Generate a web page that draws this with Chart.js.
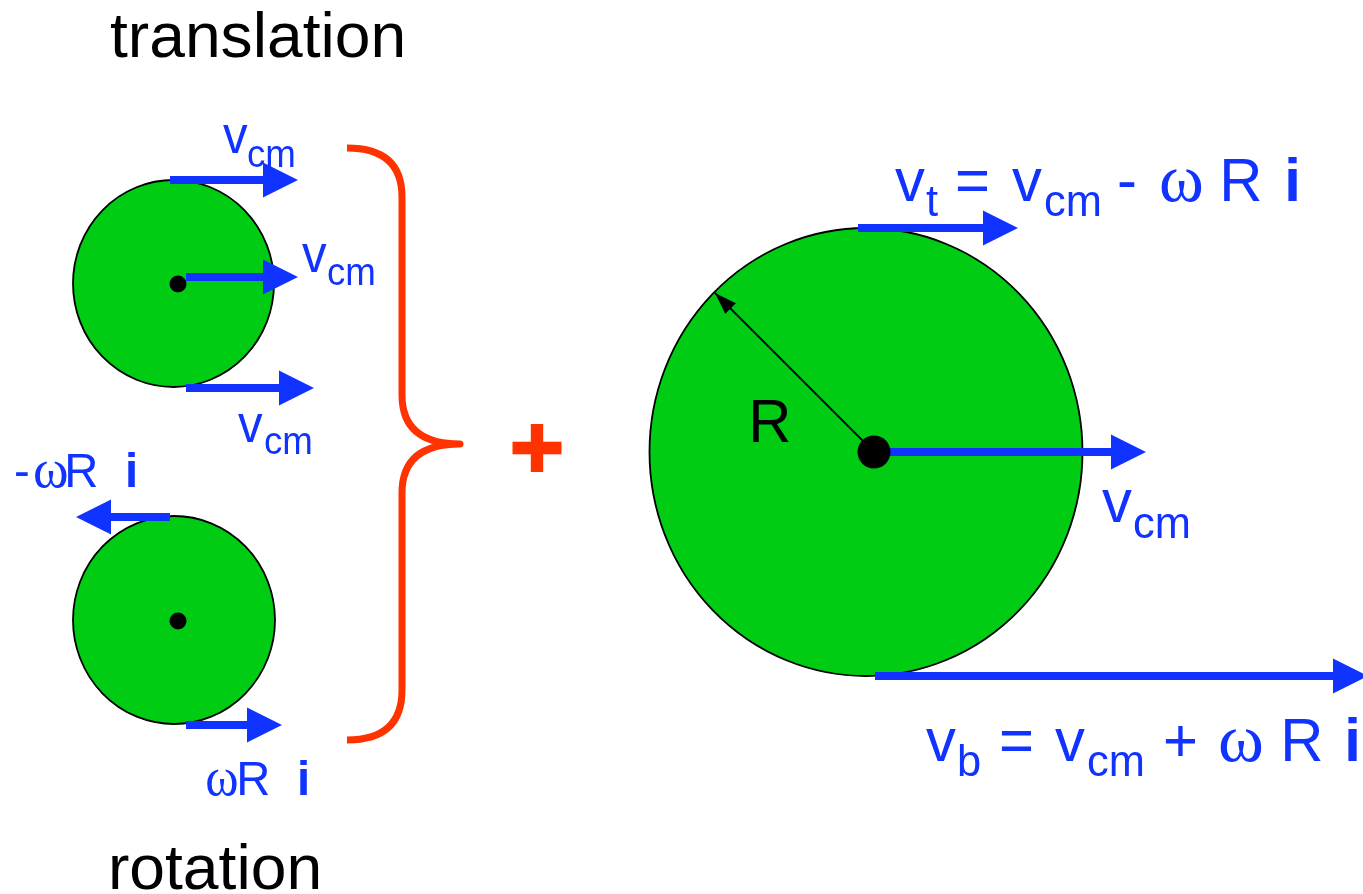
<!DOCTYPE html>
<html>
<head>
<meta charset="utf-8">
<title>translation + rotation</title>
<script src="https://cdn.jsdelivr.net/npm/chart.js@4.4.1/dist/chart.umd.min.js"></script>
<style>
  html, body { margin: 0; padding: 0; background: #fff; }
  #diagrama { display: block; }
</style>
</head>
<body>
<canvas id="diagrama" width="1363" height="894"></canvas>
<script>
// rodas (centro e raios, em unidades da figura)
const wheelX = [173.5, 174, 866];
const wheelY = [283.5, 620, 452];
const wheelRx = [100.5, 101, 216.5];
const wheelRy = [103.5, 104, 224];

// pontos centrais
const dotX = [178, 178, 874];
const dotY = [284, 621, 452];

// setas de velocidade: inicio, ponta, altura
const arrowX0 = [170, 186, 186, 170, 186, 858, 885, 875];
const arrowX1 = [298, 298, 314, 76, 282, 1018, 1146, 1368];
const arrowY = [180, 277, 388, 517, 725, 228, 452, 676];

// raio R
const radiusX = [874, 715];
const radiusY = [452, 293];

// chave vermelha (pontos principais)
const braceX = [347, 402, 402, 460, 402, 402, 347];
const braceY = [148, 197, 395, 444, 493, 690, 740];

// sinal de mais
const plusX = [537];
const plusY = [448];

// textos: [texto, x, linha de base, estilo, largura opcional]
const titulos = [
    ["translation", 110, 57, "titulo", 292],
    ["rotation", 112, 889, "titulo", 206]
];
const rotulosV = [
    // v, x do v, base do v, x do "cm", base do "cm"
    [223, 153, 248, 167],
    [302, 272, 328, 285],
    [238, 442, 265, 454]
];
const equacaoTopo = [
    ["v", 895, 201, "eq"], ["t", 926, 216, "sub"], ["=", 958, 201, "eq"],
    ["v", 1012, 201, "eq"], ["cm", 1045, 216, "sub"], ["-", 1119, 201, "eq"],
    ["\u03c9", 1161, 201, "omega", 41], ["R", 1224, 201, "eq"], ["i", 1288, 201, "bold"]
];
const equacaoBase = [
    ["v", 926, 761, "eq"], ["b", 959, 776, "sub"], ["=", 1002, 761, "eq"],
    ["v", 1055, 761, "eq"], ["cm", 1088, 776, "sub"], ["+", 1166, 761, "eq"],
    ["\u03c9", 1220, 761, "omega", 42], ["R", 1285, 761, "eq"], ["i", 1348, 761, "bold"]
];
const outrosRotulos = [
    ["-", 16, 487, "small"], ["\u03c9", 35, 487, "smallOmega", 32], ["R", 68, 487, "small"], ["i", 128, 487, "smallBold"],
    ["\u03c9", 207, 795, "smallOmega", 30], ["R", 240, 795, "small"], ["i", 300, 795, "smallBold"],
    ["v", 1102, 522, "eq"], ["cm", 1134, 538, "sub"]
];
const rotuloR = [["R", 753, 442, "R"]];

const AZUL = "rgb(17, 51, 255)";
const VERDE = "rgb(0, 204, 20)";
const VERMELHO = "rgb(255, 51, 0)";
const SANS = '"Liberation Sans", Arial, sans-serif';
const SERIF = '"Liberation Serif", "DejaVu Serif", serif';
const estilos = {
    eq: { size: 62, font: SANS, bold: false, color: AZUL },
    sub: { size: 45, font: SANS, bold: false, color: AZUL },
    omega: { size: 68, font: SERIF, bold: false, color: AZUL },
    bold: { size: 62, font: SANS, bold: true, color: AZUL },
    small: { size: 49, font: SANS, bold: false, color: AZUL },
    smallOmega: { size: 54, font: SERIF, bold: false, color: AZUL },
    smallBold: { size: 49, font: SANS, bold: true, color: AZUL },
    v: { size: 51, font: SANS, bold: false, color: AZUL },
    vSub: { size: 38, font: SANS, bold: false, color: AZUL },
    titulo: { size: 63, font: SANS, bold: false, color: "#000" },
    R: { size: 62, font: SANS, bold: false, color: "#000" }
};
const ESTREITO = 0.965; // a figura original esta levemente comprimida na horizontal
const PONTA = 35, MEIA = 17.5;

function escrever(ctx, chart, texto, x, y, nomeEstilo, largura) {
    const e = estilos[nomeEstilo];
    const px = chart.scales.x.getPixelForValue(x);
    const py = chart.scales.y.getPixelForValue(y);
    ctx.save();
    ctx.font = (e.bold ? "bold " : "") + e.size + "px " + e.font;
    ctx.fillStyle = e.color;
    ctx.textBaseline = "alphabetic";
    ctx.textAlign = "left";
    const m = ctx.measureText(texto);
    let escala = ESTREITO;
    if (largura) {
        escala = largura / (m.actualBoundingBoxLeft + m.actualBoundingBoxRight);
    }
    ctx.translate(px, py);
    ctx.scale(escala, 1);
    ctx.fillText(texto, m.actualBoundingBoxLeft, 0);
    ctx.restore();
}

const desenhoPlugin = {
    id: "desenho",
    beforeDatasetsDraw(chart) {
        const ctx = chart.ctx, sx = chart.scales.x, sy = chart.scales.y;
        for (let i = 0; i < wheelX.length; i++) {
            const cx = sx.getPixelForValue(wheelX[i]);
            const cy = sy.getPixelForValue(wheelY[i]);
            const rx = Math.abs(sx.getPixelForValue(wheelX[i] + wheelRx[i]) - cx);
            const ry = Math.abs(sy.getPixelForValue(wheelY[i] + wheelRy[i]) - cy);
            ctx.save();
            ctx.beginPath();
            ctx.ellipse(cx, cy, rx, ry, 0, 0, Math.PI * 2);
            ctx.fillStyle = VERDE;
            ctx.fill();
            ctx.lineWidth = 1.8;
            ctx.strokeStyle = "#000";
            ctx.stroke();
            ctx.restore();
        }
    },
    afterDatasetsDraw(chart) {
        const ctx = chart.ctx, sx = chart.scales.x, sy = chart.scales.y;
        // pontas das setas azuis
        ctx.save();
        ctx.fillStyle = AZUL;
        for (let i = 0; i < arrowX0.length; i++) {
            const dir = Math.sign(arrowX1[i] - arrowX0[i]);
            const tx = sx.getPixelForValue(arrowX1[i]);
            const ty = sy.getPixelForValue(arrowY[i]);
            ctx.beginPath();
            ctx.moveTo(tx, ty);
            ctx.lineTo(tx - dir * PONTA, ty - MEIA);
            ctx.lineTo(tx - dir * PONTA, ty + MEIA);
            ctx.closePath();
            ctx.fill();
        }
        ctx.restore();

        // ponta da seta do raio
        const ax = sx.getPixelForValue(radiusX[1]), ay = sy.getPixelForValue(radiusY[1]);
        const bx = sx.getPixelForValue(radiusX[0]), by = sy.getPixelForValue(radiusY[0]);
        const len = Math.hypot(bx - ax, by - ay);
        const ux = (bx - ax) / len, uy = (by - ay) / len;
        ctx.save();
        ctx.fillStyle = "#000";
        ctx.beginPath();
        ctx.moveTo(ax, ay);
        ctx.lineTo(ax + ux * 22 - uy * 7.5, ay + uy * 22 + ux * 7.5);
        ctx.lineTo(ax + ux * 22 + uy * 7.5, ay + uy * 22 - ux * 7.5);
        ctx.closePath();
        ctx.fill();
        ctx.restore();

        // chave
        const bxp = braceX.map(v => sx.getPixelForValue(v));
        const byp = braceY.map(v => sy.getPixelForValue(v));
        ctx.save();
        ctx.strokeStyle = VERMELHO;
        ctx.lineWidth = 7;
        ctx.lineJoin = "round";
        ctx.lineCap = "butt";
        ctx.beginPath();
        ctx.moveTo(bxp[0], byp[0]);
        ctx.quadraticCurveTo(bxp[1], byp[0], bxp[1], byp[1]);
        ctx.lineTo(bxp[2], byp[2]);
        ctx.quadraticCurveTo(bxp[2], byp[3], bxp[3], byp[3]);
        ctx.quadraticCurveTo(bxp[4], byp[3], bxp[4], byp[4]);
        ctx.lineTo(bxp[5], byp[5]);
        ctx.quadraticCurveTo(bxp[5], byp[6], bxp[6], byp[6]);
        ctx.stroke();
        ctx.restore();

        // sinal de mais
        ctx.save();
        ctx.fillStyle = VERMELHO;
        for (let i = 0; i < plusX.length; i++) {
            const cx = sx.getPixelForValue(plusX[i]), cy = sy.getPixelForValue(plusY[i]);
            ctx.fillRect(cx - 24.5, cy - 6.3, 49, 12.6);
            ctx.fillRect(cx - 6.2, cy - 24, 12.4, 48);
        }
        ctx.restore();

        // textos
        const todos = [].concat(titulos, rotuloR, equacaoTopo, equacaoBase, outrosRotulos);
        todos.forEach(s => escrever(ctx, chart, s[0], s[1], s[2], s[3], s[4]));
        rotulosV.forEach(r => {
            escrever(ctx, chart, "v", r[0], r[1], "v");
            escrever(ctx, chart, "cm", r[2], r[3], "vSub");
        });
    }
};

// hastes das setas como series de linha
let datasets = [];
for (let i = 0; i < arrowX0.length; i++) {
    const dir = Math.sign(arrowX1[i] - arrowX0[i]);
    datasets.push({
        label: "seta " + i,
        data: [{ x: arrowX0[i], y: arrowY[i] }, { x: arrowX1[i] - dir * (PONTA - 4), y: arrowY[i] }],
        showLine: true,
        borderColor: AZUL,
        borderWidth: 8,
        borderCapStyle: "butt",
        pointRadius: 0,
        order: 2
    });
}
datasets.push({
    label: "raio",
    data: radiusX.map((x, i) => ({ x: x, y: radiusY[i] })),
    showLine: true,
    borderColor: "#000",
    borderWidth: 1.8,
    pointRadius: 0,
    order: 3
});
datasets.push({
    label: "centros",
    data: dotX.map((x, i) => ({ x: x, y: dotY[i] })),
    showLine: false,
    pointRadius: [8.5, 8.5, 16.5],
    pointBackgroundColor: "#000",
    pointBorderWidth: 0,
    order: 1
});

const ctx = document.getElementById("diagrama").getContext("2d");
const chart = new Chart(ctx, {
    type: "scatter",
    data: { datasets: datasets },
    options: {
        responsive: false,
        animation: false,
        devicePixelRatio: 1,
        layout: { padding: 0, autoPadding: false },
        plugins: { legend: { display: false }, tooltip: { enabled: false } },
        scales: {
            x: { type: "linear", min: 0, max: 1363, display: false },
            y: { type: "linear", min: 0, max: 894, reverse: true, display: false }
        }
    },
    plugins: [desenhoPlugin]
});
</script>
</body>
</html>
